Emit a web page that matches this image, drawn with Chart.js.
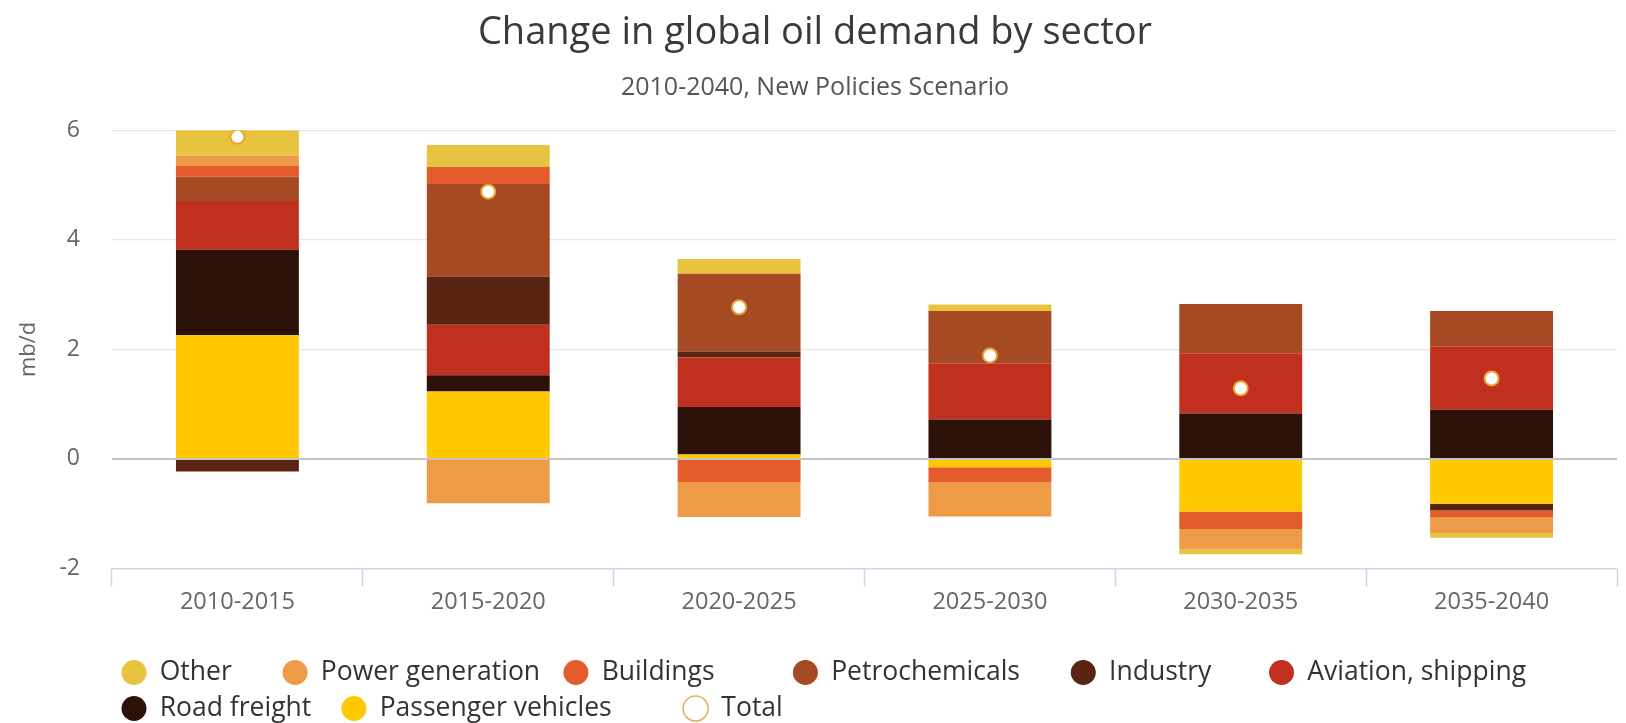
<!DOCTYPE html>
<html><head><meta charset="utf-8">
<script src="https://cdn.jsdelivr.net/npm/chart.js@4.4.1/dist/chart.umd.min.js"></script>
<style>html,body{margin:0;padding:0;background:#fff}#wrap{width:1626px;height:723px;position:relative}</style>
</head><body><div id="wrap"><canvas id="c"></canvas></div>
<script>
const categories = ['2010-2015', '2015-2020', '2020-2025', '2025-2030', '2030-2035', '2035-2040'];
const other = [0.46, 0.40, 0.27, 0.12, -0.09, -0.09];
const powerGeneration = [0.19, -0.81, -0.64, -0.62, -0.37, -0.29];
const buildings = [0.20, 0.31, -0.42, -0.28, -0.32, -0.12];
const petrochemicals = [0.44, 1.69, 1.42, 0.96, 0.90, 0.65];
const industry = [-0.23, 0.88, 0.11, 0, 0, -0.12];
const aviationShipping = [0.89, 0.92, 0.90, 1.02, 1.10, 1.15];
const roadFreight = [1.56, 0.30, 0.87, 0.72, 0.83, 0.90];
const passengerVehicles = [2.26, 1.23, 0.08, -0.15, -0.96, -0.82];
const total = [5.88, 4.88, 2.77, 1.89, 1.29, 1.47];
const yTicks = [-2, 0, 2, 4, 6];

const FONT = "'Open Sans', sans-serif";
// trailing gap (in non-breaking spaces) after each legend label, to space items like the original
const legendGap = { 'Other': 6, 'Power generation': 2, 'Buildings': 10, 'Petrochemicals': 6, 'Industry': 7,
  'Aviation, shipping': 0, 'Road freight': 3, 'Passenger vehicles': 9, 'Total': 0 };

function bar(label, data, color) {
  return { type: 'bar', label, data, backgroundColor: color, borderWidth: 0, stack: 'sectors' };
}

function draw() {
  const datasets = [
    { type: 'line', label: 'Total', data: total, stack: 'total', showLine: false,
      pointRadius: 7, pointHoverRadius: 7, pointBackgroundColor: '#ffffff',
      pointBorderColor: '#eba53a', pointBorderWidth: 2, backgroundColor: '#ffffff', borderColor: '#eba53a' },
    bar('Passenger vehicles', passengerVehicles, '#ffc800'),
    bar('Road freight', roadFreight, '#2b1107'),
    bar('Aviation, shipping', aviationShipping, '#c12f1f'),
    bar('Industry', industry, '#5a2412'),
    bar('Petrochemicals', petrochemicals, '#a54a22'),
    bar('Buildings', buildings, '#e45c2b'),
    bar('Power generation', powerGeneration, '#ee9b48'),
    bar('Other', other, '#e8c33f')
  ];
  new Chart(document.getElementById('c'), {
    data: { labels: categories, datasets },
    options: {
      responsive: true, maintainAspectRatio: false, animation: false,
      layout: { padding: { top: 0, left: 0, right: -4, bottom: 0 } },
      datasets: { bar: { barPercentage: 0.49, categoryPercentage: 1 } },
      plugins: {
        tooltip: { enabled: false },
        title: { display: true, text: 'Change in global oil demand by sector', color: '#3a3a3a',
          font: { family: FONT, size: 38, weight: 'normal', lineHeight: 1.2 }, padding: { top: 10, bottom: 0 } },
        subtitle: { display: true, text: '2010-2040, New Policies Scenario', color: '#555555',
          font: { family: FONT, size: 25, weight: 'normal', lineHeight: 1.2 }, padding: { top: 17, bottom: 27.7 } },
        legend: {
          position: 'bottom', align: 'start', reverse: true, fullSize: false, maxHeight: 73.25,
          labels: {
            usePointStyle: true, pointStyle: 'circle', pointStyleWidth: 25, boxHeight: 17.7,
            padding: 9.5, color: '#333333', font: { family: FONT, size: 26.5 },
            generateLabels(chart) {
              const items = Chart.defaults.plugins.legend.labels.generateLabels(chart);
              items.forEach(it => {
                it.pointStyle = 'circle';
                if (it.text === 'Total') { it.fillStyle = '#ffffff'; it.strokeStyle = '#e0b060'; it.lineWidth = 1.5; }
                it.text = it.text + '\u00a0'.repeat(legendGap[it.text] || 0);
              });
              return items;
            }
          }
        }
      },
      scales: {
        x: {
          stacked: true,
          grid: { offset: true, drawOnChartArea: false, drawTicks: true, tickLength: 18, tickColor: '#ccd6eb', tickWidth: 1.5 },
          border: { display: true, color: '#ccd6eb', width: 1.5 },
          ticks: { color: '#666666', font: { family: FONT, size: 23.5 }, padding: 2, maxRotation: 0 },
          afterFit(s) { s.height = 81.25; }
        },
        y: {
          stacked: true, min: -2, max: 6,
          afterBuildTicks(s) { s.ticks = yTicks.map(v => ({ value: v })); },
          grid: {
            drawTicks: false,
            color: c => c.tick.value === 0 ? '#c4c4c4' : (c.tick.value === -2 ? 'rgba(0,0,0,0)' : '#e6e6e6'),
            lineWidth: c => c.tick.value === 0 ? 2 : 1.2
          },
          border: { display: false },
          ticks: { color: '#666666', font: { family: FONT, size: 23 }, padding: 32 },
          title: { display: true, text: 'mb/d', color: '#666666', font: { family: FONT, size: 22 }, padding: { top: 16, bottom: 0 } },
          afterFit(s) { s.width = 112; }
        }
      }
    }
  });
}
if (document.fonts && document.fonts.load) {
  Promise.all([document.fonts.load("25px 'Open Sans'"), document.fonts.load("38px 'Open Sans'")]).then(draw, draw);
} else { draw(); }
</script>
</body></html>
